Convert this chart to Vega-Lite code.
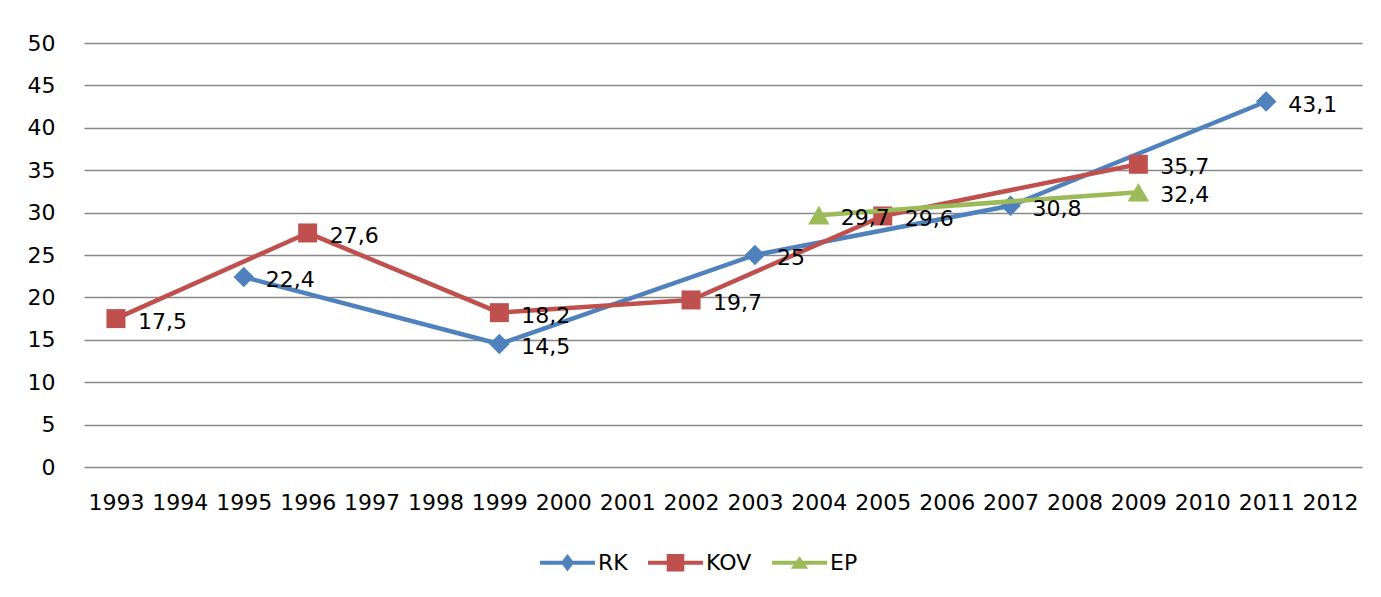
{
  "$schema": "https://vega.github.io/schema/vega-lite/v6.json",
  "width": 1278,
  "height": 424,
  "autosize": {"type": "none"},
  "padding": {"left": 84, "top": 43, "right": 19, "bottom": 130},
  "background": "white",
  "config": {
    "view": {"stroke": null},
    "font": "DejaVu Sans",
    "locale": {"number": {"decimal": ",", "thousands": " ", "grouping": [3], "currency": ["", ""]}}
  },
  "data": {
    "values": [
      {"year": "1995", "series": "RK", "value": 22.4},
      {"year": "1999", "series": "RK", "value": 14.5},
      {"year": "2003", "series": "RK", "value": 25},
      {"year": "2007", "series": "RK", "value": 30.8},
      {"year": "2011", "series": "RK", "value": 43.1},
      {"year": "1993", "series": "KOV", "value": 17.5},
      {"year": "1996", "series": "KOV", "value": 27.6},
      {"year": "1999", "series": "KOV", "value": 18.2},
      {"year": "2002", "series": "KOV", "value": 19.7},
      {"year": "2005", "series": "KOV", "value": 29.6},
      {"year": "2009", "series": "KOV", "value": 35.7},
      {"year": "2004", "series": "EP", "value": 29.7},
      {"year": "2009", "series": "EP", "value": 32.4}
    ]
  },
  "encoding": {
    "x": {
      "field": "year", "type": "ordinal",
      "scale": {"type": "point", "padding": 0.5,
        "domain": ["1993","1994","1995","1996","1997","1998","1999","2000","2001","2002","2003","2004","2005","2006","2007","2008","2009","2010","2011","2012"]},
      "axis": {"title": null, "domain": false, "ticks": false, "grid": false, "labelAngle": 0, "labelPadding": 25, "labelFontSize": 22, "labelColor": "black", "labelFont": "DejaVu Sans"}
    },
    "y": {
      "field": "value", "type": "quantitative",
      "scale": {"domain": [0, 50], "nice": false},
      "axis": {"title": null, "domain": false, "ticks": false, "grid": true, "gridColor": "#888888", "gridWidth": 1.3,
        "values": [0,5,10,15,20,25,30,35,40,45,50], "labelPadding": 29, "labelFontSize": 22, "labelColor": "black", "labelFont": "DejaVu Sans"}
    },
    "color": {
      "field": "series", "type": "nominal",
      "scale": {"domain": ["RK", "KOV", "EP"], "range": ["#4F81BD", "#C0504D", "#9BBB59"]},
      "legend": {
        "title": null, "orient": "none", "legendX": 456, "legendY": 492, "direction": "horizontal",
        "padding": 0, "symbolSize": 3025, "labelFontSize": 22, "labelColor": "black", "labelFont": "DejaVu Sans",
        "labelOffset": 3, "columnPadding": 20,
        "encode": {
          "symbols": {
            "update": {
              "shape": {"signal": "datum.value === 'RK' ? 'M-1,-0.075L1,-0.075L1,0.075L-1,0.075Z M0,-0.32L0.24,0L0,0.32L-0.24,0Z' : datum.value === 'KOV' ? 'M-1,-0.075L1,-0.075L1,0.075L-1,0.075Z M-0.32,-0.32L0.32,-0.32L0.32,0.32L-0.32,0.32Z' : 'M-1,-0.075L1,-0.075L1,0.075L-1,0.075Z M0,-0.24L0.32,0.22L-0.32,0.22Z'"},
              "fill": {"scale": "color", "field": "value"},
              "stroke": {"value": "transparent"},
              "strokeWidth": {"value": 0},
              "opacity": {"value": 1},
              "size": {"value": 3025}
            }
          }
        }
      }
    }
  },
  "layer": [
    {"transform": [{"filter": "datum.series === 'RK'"}], "mark": {"type": "line", "strokeWidth": 4.5, "strokeCap": "round", "strokeJoin": "round"}},
    {"transform": [{"filter": "datum.series === 'RK'"}], "mark": {"type": "point", "shape": "diamond", "filled": true, "size": 420, "opacity": 1, "strokeWidth": 0}},
    {"transform": [{"filter": "datum.series === 'KOV'"}], "mark": {"type": "line", "strokeWidth": 4.5, "strokeCap": "round", "strokeJoin": "round"}},
    {"transform": [{"filter": "datum.series === 'KOV'"}], "mark": {"type": "point", "shape": "square", "filled": true, "size": 361, "opacity": 1, "strokeWidth": 0}},
    {"transform": [{"filter": "datum.series === 'EP'"}], "mark": {"type": "line", "strokeWidth": 4.5, "strokeCap": "round", "strokeJoin": "round"}},
    {"transform": [{"filter": "datum.series === 'EP'"}], "mark": {"type": "point", "shape": "triangle-up", "filled": true, "size": 460, "opacity": 1, "strokeWidth": 0}},
    {
      "mark": {"type": "text", "align": "left", "baseline": "middle", "dx": 22, "dy": 3, "fontSize": 22, "font": "DejaVu Sans"},
      "encoding": {
        "text": {"field": "value", "type": "quantitative", "format": ".1~f"},
        "color": {"value": "black"}
      }
    }
  ]
}
